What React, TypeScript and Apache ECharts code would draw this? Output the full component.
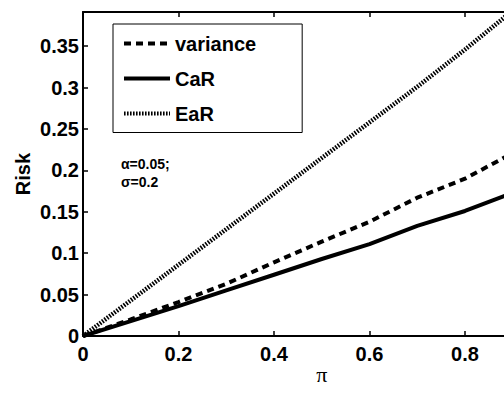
import React, { useEffect, useRef } from "react";
import * as echarts from "echarts";

const piValues = [0, 0.1, 0.2, 0.3, 0.4, 0.5, 0.6, 0.7, 0.8, 0.9, 1.0];
const varianceValues = [0, 0.02, 0.041, 0.063, 0.089, 0.114, 0.138, 0.167, 0.19, 0.221, 0.248];
const carValues = [0, 0.018, 0.036, 0.055, 0.074, 0.093, 0.111, 0.133, 0.151, 0.173, 0.192];
const earValues = [0, 0.043, 0.086, 0.129, 0.172, 0.215, 0.258, 0.301, 0.346, 0.393, 0.44];
const seriesNames = ["variance", "CaR", "EaR"];
const annotationLines = ["α=0.05;", "σ=0.2"];

const FONT = "'Liberation Sans', Arial, sans-serif";

export default function App() {
  const ref = useRef<HTMLDivElement>(null);
  useEffect(() => {
    document.body.style.margin = "0";
    if (!ref.current) return;
    const chart = echarts.init(ref.current, null, { renderer: "svg" });
    const toPairs = (vals: number[]) => piValues.map((p, i) => [p, vals[i]]);
    const axisCommon = {
      min: 0,
      axisLine: { show: true, lineStyle: { color: "#000", width: 2 } },
      axisTick: { show: true, inside: true, length: 5, lineStyle: { color: "#000", width: 1.5 } },
      splitLine: { show: false },
    };
    chart.setOption({
      animation: false,
      backgroundColor: "#fff",
      grid: { left: 83, top: 12, width: 477.5, height: 324, containLabel: false, outerBoundsMode: "none" },
      xAxis: [
        {
          ...axisCommon,
          type: "value",
          position: "bottom",
          max: 1,
          interval: 0.2,
          name: "π",
          nameLocation: "middle",
          nameGap: 27,
          nameMoveOverlap: false,
          nameTextStyle: { fontFamily: "'Liberation Serif', 'DejaVu Serif', serif", fontSize: 22, color: "#000", lineHeight: 22 },
          axisLabel: {
            margin: 8,
            color: "#000",
            fontSize: 20,
            fontWeight: "bold",
            fontFamily: FONT,
            formatter: (v: number) => (v >= 0.95 ? "" : String(Math.round(v * 10) / 10)),
          },
        },
        {
          ...axisCommon,
          type: "value",
          position: "top",
          max: 1,
          interval: 0.2,
          axisLabel: { show: false },
        },
      ],
      yAxis: {
        ...axisCommon,
        type: "value",
        max: 0.3913,
        interval: 0.05,
        name: "Risk",
        nameLocation: "middle",
        nameGap: 50,
        nameMoveOverlap: false,
        nameTextStyle: { fontFamily: FONT, fontSize: 20, fontWeight: "bold", color: "#000" },
        axisLabel: { margin: 4, color: "#000", fontSize: 20, fontWeight: "bold", fontFamily: FONT, showMaxLabel: false },
      },
      legend: {
        orient: "vertical",
        left: 113,
        top: 24,
        padding: [8.5, 46, 8, 9],
        itemGap: 13,
        itemWidth: 46,
        itemHeight: 14,
        borderColor: "#000",
        borderWidth: 1,
        backgroundColor: "#fff",
        data: seriesNames,
        itemStyle: { color: "rgba(0,0,0,0)", borderColor: "rgba(0,0,0,0)", borderWidth: 0 },
        lineStyle: { width: 4 },
        textStyle: { fontFamily: FONT, fontSize: 20, fontWeight: "bold", color: "#000", lineHeight: 22 },
      },
      series: [
        {
          name: seriesNames[0],
          type: "line",
          data: toPairs(varianceValues),
          showSymbol: false,
          symbol: "none",
          lineStyle: { color: "#000", width: 4, type: [7, 5], cap: "butt" },
          itemStyle: { color: "#000" },
        },
        {
          name: seriesNames[1],
          type: "line",
          data: toPairs(carValues),
          showSymbol: false,
          symbol: "none",
          lineStyle: { color: "#000", width: 4, type: "solid" },
          itemStyle: { color: "#000" },
        },
        {
          name: seriesNames[2],
          type: "line",
          data: toPairs(earValues),
          showSymbol: false,
          symbol: "none",
          lineStyle: { color: "#000", width: 4.5, type: [1.6, 1.4], cap: "butt" },
          itemStyle: { color: "#000" },
        },
      ],
      graphic: annotationLines.map((t, i) => ({
        type: "text",
        left: 121,
        top: 157 + i * 18,
        style: {
          text: t,
          fill: "#000",
          font: `bold 14px ${FONT}`,
        },
      })),
    });
    return () => chart.dispose();
  }, []);
  return <div ref={ref} style={{ width: 504, height: 394 }} />;
}
